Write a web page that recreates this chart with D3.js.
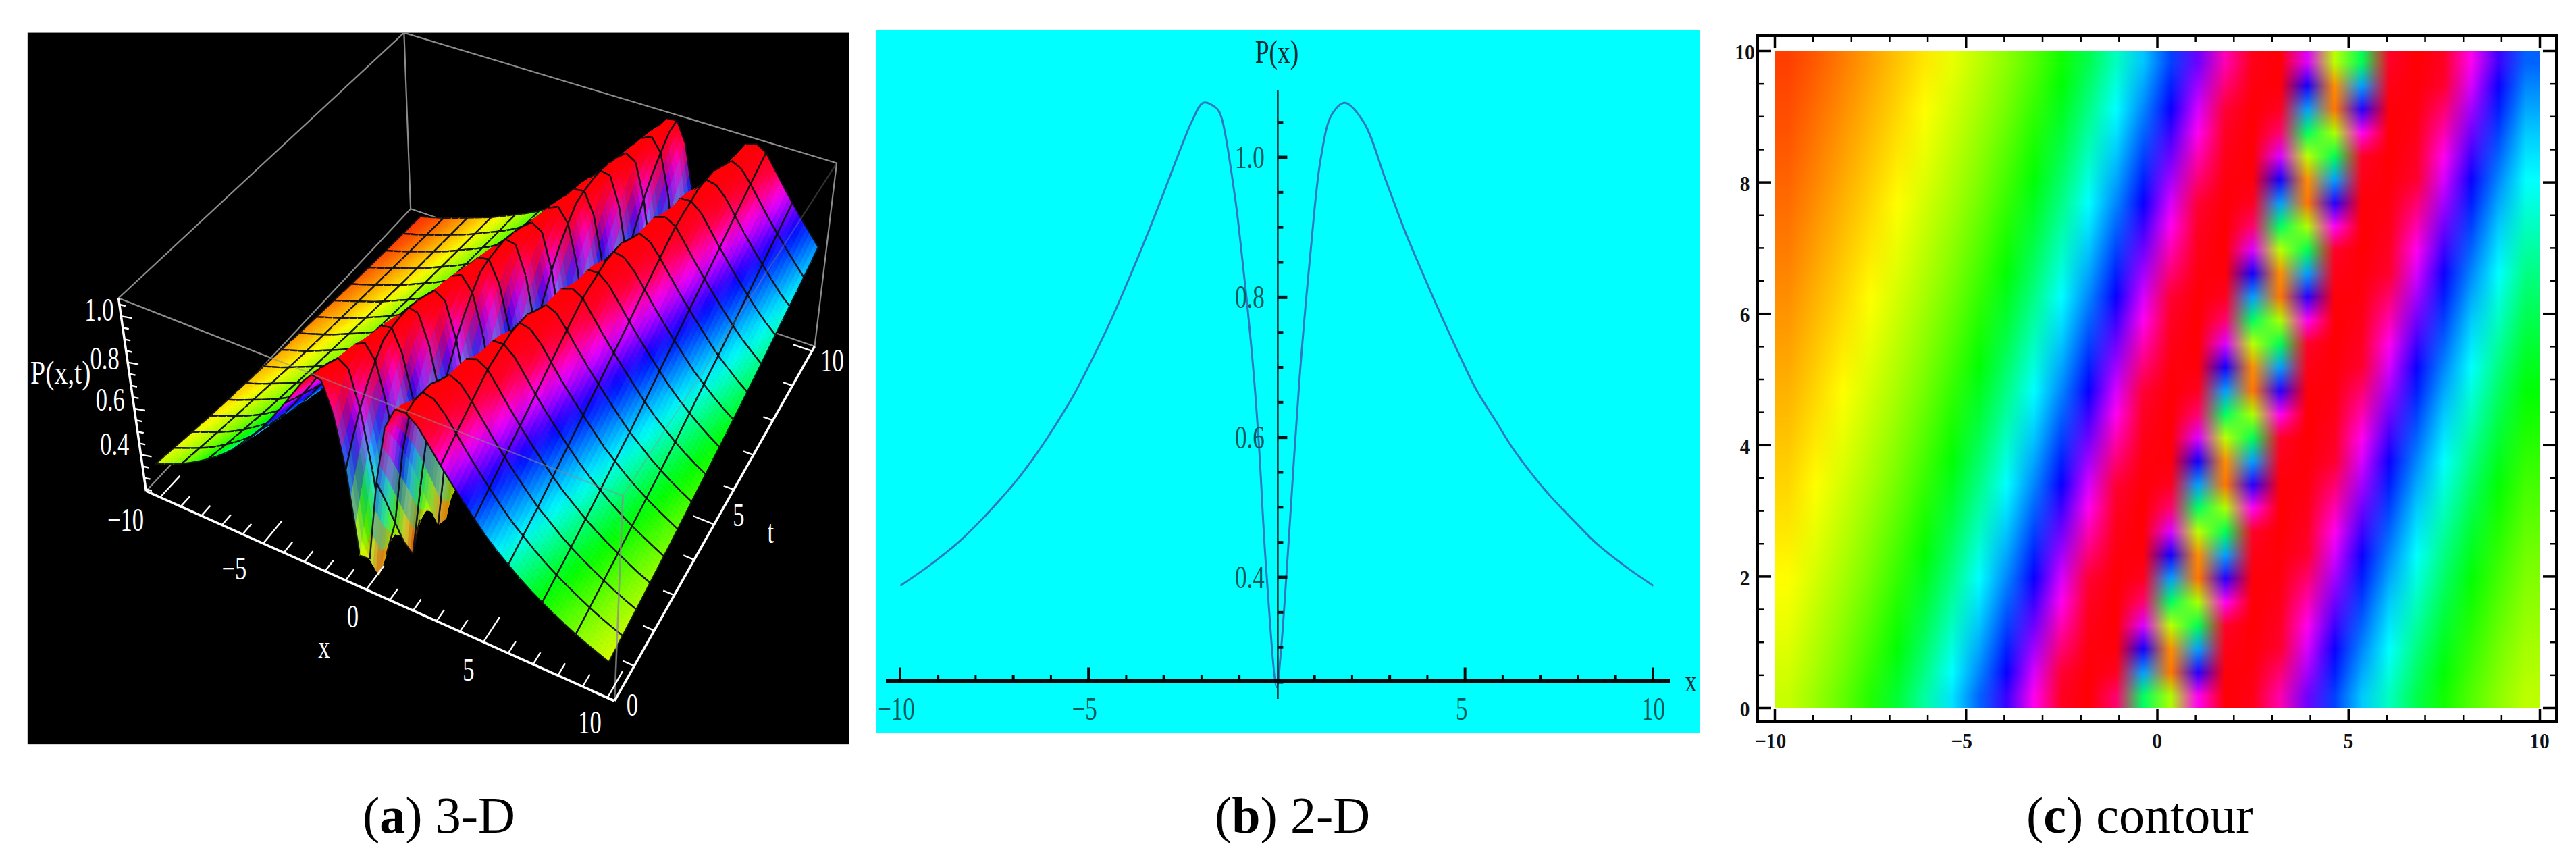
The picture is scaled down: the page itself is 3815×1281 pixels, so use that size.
<!DOCTYPE html>
<html><head><meta charset="utf-8">
<script src="https://cdn.jsdelivr.net/npm/d3@7"></script>
<style>html,body{margin:0;padding:0;background:#fff}svg{display:block}text{font-family:"Liberation Serif",serif}</style>
</head><body>
<svg id="fig" width="3815" height="1281" viewBox="0 0 3815 1281"></svg>
<script>
// ---- values ----
const profileU = [-15,-14,-13,-12,-11,-10,-9.25,-8.5,-7.85,-7.3,-6.8,-6.3,-5.85,-5.4,-4.9,-4.4,-3.9,-3.4,-3,-2.5,-2.25,-1.95,-1.6,-1.47,-1.11,-0.97,-0.79,-0.61,-0.47,-0.29,0,0.1,0.31,0.6,0.89,1.17,1.46,1.81,2.31,2.89,3.4,3.87,4.35,4.83,5.3,5.81,6.26,6.8,7.3,7.87,8.5,9.25,10];
const profileP = [0.24,0.262,0.29,0.32,0.35,0.388,0.416,0.448,0.482,0.514,0.546,0.583,0.62,0.66,0.712,0.768,0.83,0.895,0.95,1.02,1.052,1.078,1.07,1.057,0.943,0.881,0.792,0.688,0.585,0.419,0.243,0.288,0.447,0.681,0.861,0.999,1.061,1.078,1.05,0.968,0.895,0.835,0.776,0.72,0.668,0.624,0.585,0.546,0.514,0.482,0.448,0.416,0.388];
const hueLevels = [0.24,0.365,0.514,0.64,0.79,0.90,0.985,1.08];
const hueValues = [0.03,0.167,0.33,0.5,0.667,0.83,0.97,1.0];
const waveSpeed = [0.5];
const xMajor = [-10,-5,0,5,10];
const xMinor = d3.range(-10,10.5,1);
const yMajor2D = [0.4,0.6,0.8,1.0];
const yMinor2D = [0.25,0.3,0.35,0.45,0.5,0.55,0.65,0.7,0.75,0.85,0.9,0.95,1.05];
const tMajor = [0,2,4,6,8,10];
const tMinor = d3.range(0,10.1,0.5);
const captions = [["a"," 3-D"],["b"," 2-D"],["c"," contour"]];
// ---------------------------------------

const svg = d3.select("#fig");
svg.append("rect").attr("width",3815).attr("height",1281).attr("fill","#fff");
const profile = d3.scaleLinear().domain(profileU).range(profileP);
const hue = d3.scaleLinear().domain(hueLevels).range(hueValues).clamp(true);
const value = (x,t)=>profile(x-waveSpeed[0]*t);
const colorOf = p=>d3.rgb(d3.hsl(hue(p)*360,1,0.5));

function label(g,s,x,y,size,sx,fill,weight){
  return g.append("text").attr("transform",`translate(${x},${y}) scale(${sx},1)`)
    .attr("text-anchor","middle").attr("dominant-baseline","central")
    .attr("font-size",size).attr("fill",fill).attr("font-weight",weight||"normal").text(s);
}

// ============ Panel (a) 3-D ============
(function(){
  const g = svg.append("g");
  const zx=z=>z*0.8163, zy=z=>20+z*0.7143;
  const Z=(a,b)=>[zx(a),zy(b)];
  g.append("rect").attr("x",zx(50)).attr("y",zy(40)).attr("width",zx(1540)-zx(50)).attr("height",zy(1515)-zy(40)).attr("fill","#000");
  const B=Z(265,990),C=Z(1115,1425),D=Z(1478,690),E=Z(745,405),A=Z(215,590),H=Z(1130,1000),G=Z(1518,310),F=Z(733,40);
  const fxS=d3.scaleLinear().domain(xMajor).range([0.03,0.25,0.47,0.72,0.985]);
  const ftS=d3.scaleLinear().domain([0,5,10]).range([0.0,0.5,0.99]);
  const fzS=d3.scaleLinear().domain([0.243,1.078]).range([0,1]);
  const mix=(a,b,f)=>[a[0]+(b[0]-a[0])*f,a[1]+(b[1]-a[1])*f];
  const project=(x,t,z)=>{
    const fx=fxS(x),ft=ftS(t),fz=fzS(z);
    const lo=mix(mix(B,C,fx),mix(E,D,fx),ft), hi=mix(mix(A,H,fx),mix(F,G,fx),ft);
    return mix(lo,hi,fz);
  };
  const seg=(gg,a,b,stroke,w,op)=>gg.append("line").attr("x1",a[0]).attr("y1",a[1]).attr("x2",b[0]).attr("y2",b[1])
     .attr("stroke",stroke).attr("stroke-width",w).attr("stroke-opacity",op==null?1:op);
  // rear box edges
  [[E,F],[F,A],[F,G],[B,E],[E,D],[D,G],[A,H]].forEach(e=>seg(g,e[0],e[1],"#8c8c8c",2.2));
  // surface
  const nx=45,nt=30,sub=3,meshX=3,meshT=2;
  const sg=g.append("g");
  const xs=d3.range(nx+1).map(i=>-10+i*20/nx), ts=d3.range(nt+1).map(j=>j*10/nt);
  const P=xs.map(x=>ts.map(t=>value(x,t)));
  const CL=P.map(r=>r.map(colorOf));
  const blend=(c00,c10,c01,c11,u,v)=>{
    const f=k=>(c00[k]*(1-u)+c10[k]*u)*(1-v)+(c01[k]*(1-u)+c11[k]*u)*v;
    return `rgb(${Math.round(f("r"))},${Math.round(f("g"))},${Math.round(f("b"))})`;
  };
  for(let i=0;i<nx;i++){
    for(let j=nt-1;j>=0;j--){
      const pt=(u,v)=>{
        const x=xs[i]+(xs[i+1]-xs[i])*u,t=ts[j]+(ts[j+1]-ts[j])*v;
        const z=(P[i][j]*(1-u)+P[i+1][j]*u)*(1-v)+(P[i][j+1]*(1-u)+P[i+1][j+1]*u)*v;
        return project(x,t,z);
      };
      for(let a=0;a<sub;a++)for(let b=sub-1;b>=0;b--){
        const u0=a/sub,u1=(a+1)/sub,v0=b/sub,v1=(b+1)/sub;
        const col=blend(CL[i][j],CL[i+1][j],CL[i][j+1],CL[i+1][j+1],(u0+u1)/2,(v0+v1)/2);
        const poly=[pt(u0,v0),pt(u1,v0),pt(u1,v1),pt(u0,v1)];
        sg.append("polygon").attr("points",poly.map(p=>p.join(",")).join(" ")).attr("fill",col).attr("stroke",col).attr("stroke-width",0.8);
      }
      const edge=(a,b)=>sg.append("line").attr("x1",a[0]).attr("y1",a[1]).attr("x2",b[0]).attr("y2",b[1]).attr("stroke","#0c0c10").attr("stroke-width",2.4).attr("stroke-opacity",0.92);
      if(i%meshX===0) edge(pt(0,0),pt(0,1));
      if((i+1)%meshX===0) edge(pt(1,0),pt(1,1));
      if(j%meshT===0) edge(pt(0,0),pt(1,0));
      if((j+1)%meshT===0) edge(pt(0,1),pt(1,1));
    }
  }
  // front box edges seen over the surface
  seg(g,A,H,"#8c8c8c",2.2,0.55); seg(g,H,C,"#8c8c8c",2.6,0.8); seg(g,H,G,"#8c8c8c",2.2,0.35);
  // white axes
  seg(g,B,C,"#fff",3.5); seg(g,C,D,"#fff",3.5); seg(g,A,B,"#fff",3.5);
  xMinor.forEach(x=>{const a=project(x,0,0.243),b=project(x,(x%5===0)?0.75:0.35,0.243);seg(g,a,b,"#fff",2.4);});
  d3.range(0,10.1,1).forEach(t=>{const a=project(10,t,0.243),b=project(10-((t%5===0)?0.9:0.45),t,0.243);seg(g,[a[0]+9,a[1]+5],[b[0]+9,b[1]+5],"#fff",2.4);});
  d3.range(0.25,1.06,0.05).forEach(z=>{const maj=Math.abs(z*5-Math.round(z*5))<1e-6;
    const a=mix(B,A,fzS(z)),b=[a[0]+(maj?16:9),a[1]+(maj?3:2)];seg(g,a,b,"#fff",2.4);});
  // labels
  const L=(s,a,b,sx)=>label(g,s,zx(a),zy(b),48,sx||0.72,"#fff");
  L("1.0",180,615);L("0.8",190,715);L("0.6",200,800);L("0.4",208,893);
  L("P(x,t)",110,745,0.83);
  L("−10",228,1050);L("−5",425,1150);L("0",640,1250);L("x",588,1313);L("5",850,1360);L("10",1070,1470);
  L("0",1147,1433);L("5",1340,1040);L("t",1398,1075);L("10",1510,720);
})();

// ============ Panel (b) 2-D ============
(function(){
  const g=svg.append("g");
  g.append("rect").attr("x",1297.5).attr("y",45).attr("width",1219.5).attr("height",1041).attr("fill","#00ffff");
  const x=d3.scaleLinear().domain([-10,10]).range([1333.4,2448.4]);
  const y=d3.scaleLinear().domain([0.4,1.0]).range([855,233]);
  const axisY=1008.5, x0=x(0)+1.5;
  const txt="#005a5c";
  // curve
  const pts=profileU.map((u,i)=>[u,profileP[i]]).filter(d=>d[0]>=-10);
  g.append("path").attr("d",d3.line().x(d=>x(d[0])).y(d=>y(d[1])).curve(d3.curveCatmullRom.alpha(0.5))(pts))
   .attr("fill","none").attr("stroke","#2e78c0").attr("stroke-width",3);
  // y axis
  const ya=g.append("g").attr("transform",`translate(${x0},0)`);
  ya.append("line").attr("y1",134).attr("y2",1035).attr("stroke","#10262c").attr("stroke-width",2.5);
  ya.selectAll(".mj").data(yMajor2D).join("line").attr("x1",0).attr("x2",14).attr("y1",y).attr("y2",y).attr("stroke","#021418").attr("stroke-width",5);
  ya.selectAll(".mn").data(yMinor2D).join("line").attr("x1",0).attr("x2",8).attr("y1",y).attr("y2",y).attr("stroke","#021418").attr("stroke-width",4);
  yMajor2D.forEach(v=>label(g,v.toFixed(1),1851,y(v),48,0.73,txt));
  // x axis
  g.append("line").attr("x1",1312).attr("x2",2473).attr("y1",axisY).attr("y2",axisY).attr("stroke","#05090c").attr("stroke-width",7);
  g.selectAll(".xt").data(xMinor.filter(v=>v!==0)).join("line").attr("x1",x).attr("x2",x)
    .attr("y1",axisY).attr("y2",v=>axisY-(v%5===0?20:9)).attr("stroke","#05090c").attr("stroke-width",v=>v%2===0?3:4);
  [[-10,"−10"],[-5,"−5"],[5,"5"],[10,"10"]].forEach(d=>label(g,d[1],x(d[0])-(d[0]<0?6:0)+(d[0]===5?-5:0),1050,48,0.73,txt));
  label(g,"P(x)",1891,77,48,0.78,"#082c34");
  label(g,"x",2504,1009,46,0.75,"#082c34");
})();

// ============ Panel (c) contour ============
(function(){
  const g=svg.append("g");
  const X0=2628,X1=3761,Y0=1048,Y1=75;
  const x=d3.scaleLinear().domain([-10,10]).range([X0,X1]);
  const y=d3.scaleLinear().domain([0,10]).range([Y0,Y1]);
  const nc=28;
  const cols=d3.range(nc).map(i=>d3.range(nc).map(j=>colorOf(value(-10+(i+0.5)*20/nc,(j+0.5)*10/nc))));
  const W=Math.round(X1-X0),H=Math.round(Y0-Y1);
  const cv=document.createElement("canvas");cv.width=W;cv.height=H;
  const ctx=cv.getContext("2d"),im=ctx.createImageData(W,H);
  const clampC=d3.scaleLinear().domain([0,nc-1]).range([0,nc-1]).clamp(true);
  for(let py=0;py<H;py++){
    const fy=clampC((H-1-py+0.5)/H*nc-0.5),j=Math.min(nc-2,Math.floor(fy)),v=fy-j;
    for(let px=0;px<W;px++){
      const fx=clampC((px+0.5)/W*nc-0.5),i=Math.min(nc-2,Math.floor(fx)),u=fx-i;
      const a=cols[i][j],b=cols[i+1][j],c=cols[i][j+1],d=cols[i+1][j+1];
      const o=(py*W+px)*4;
      im.data[o]=(a.r*(1-u)+b.r*u)*(1-v)+(c.r*(1-u)+d.r*u)*v;
      im.data[o+1]=(a.g*(1-u)+b.g*u)*(1-v)+(c.g*(1-u)+d.g*u)*v;
      im.data[o+2]=(a.b*(1-u)+b.b*u)*(1-v)+(c.b*(1-u)+d.b*u)*v;
      im.data[o+3]=255;
    }
  }
  ctx.putImageData(im,0,0);
  g.append("image").attr("x",X0).attr("y",Y1).attr("width",W).attr("height",H).attr("preserveAspectRatio","none").attr("href",cv.toDataURL("image/png"));
  // frame
  const FL=2603,FR=3786,FT=53,FB=1068;
  g.append("rect").attr("x",FL).attr("y",FT).attr("width",FR-FL).attr("height",FB-FT).attr("fill","none").attr("stroke","#000").attr("stroke-width",4);
  const tickStyle=(sel,w)=>{sel.select(".domain").remove();sel.selectAll(".tick line").attr("stroke","#000").attr("stroke-width",w);sel.selectAll(".tick text").remove();};
  const mn=xMinor.filter(v=>v%5!==0), tn=tMinor.filter(v=>v%2!==0);
  g.append("g").attr("transform",`translate(0,${FB})`).call(d3.axisTop(x).tickValues(mn).tickSize(9)).call(tickStyle,2.5);
  g.append("g").attr("transform",`translate(0,${FB})`).call(d3.axisTop(x).tickValues(xMajor).tickSize(18)).call(tickStyle,3.5);
  g.append("g").attr("transform",`translate(0,${FT})`).call(d3.axisBottom(x).tickValues(mn).tickSize(9)).call(tickStyle,2.5);
  g.append("g").attr("transform",`translate(0,${FT})`).call(d3.axisBottom(x).tickValues(xMajor).tickSize(18)).call(tickStyle,3.5);
  g.append("g").attr("transform",`translate(${FL},0)`).call(d3.axisRight(y).tickValues(tn).tickSize(9)).call(tickStyle,2.5);
  g.append("g").attr("transform",`translate(${FL},0)`).call(d3.axisRight(y).tickValues(tMajor).tickSize(20)).call(tickStyle,3.5);
  g.append("g").attr("transform",`translate(${FR},0)`).call(d3.axisLeft(y).tickValues(tn).tickSize(9)).call(tickStyle,2.5);
  g.append("g").attr("transform",`translate(${FR},0)`).call(d3.axisLeft(y).tickValues(tMajor).tickSize(20)).call(tickStyle,3.5);
  xMajor.forEach(v=>label(g,String(v).replace("-","−"),x(v)-(v<0?6:0),1098,31,0.95,"#111","bold"));
  tMajor.forEach(v=>label(g,String(v),2584,y(v)+3,31,0.95,"#111","bold"));
})();

// ============ captions ============
[[537,0],[1799,1],[3001,2]].forEach(([px,k])=>{
  const t=svg.append("text").attr("transform",`translate(${px},1233)`).attr("font-size",76).attr("fill","#000");
  t.append("tspan").text("(");
  t.append("tspan").attr("font-weight","bold").text(captions[k][0]);
  t.append("tspan").text(")");
  t.append("tspan").text(captions[k][1]);
});
</script>
</body></html>
